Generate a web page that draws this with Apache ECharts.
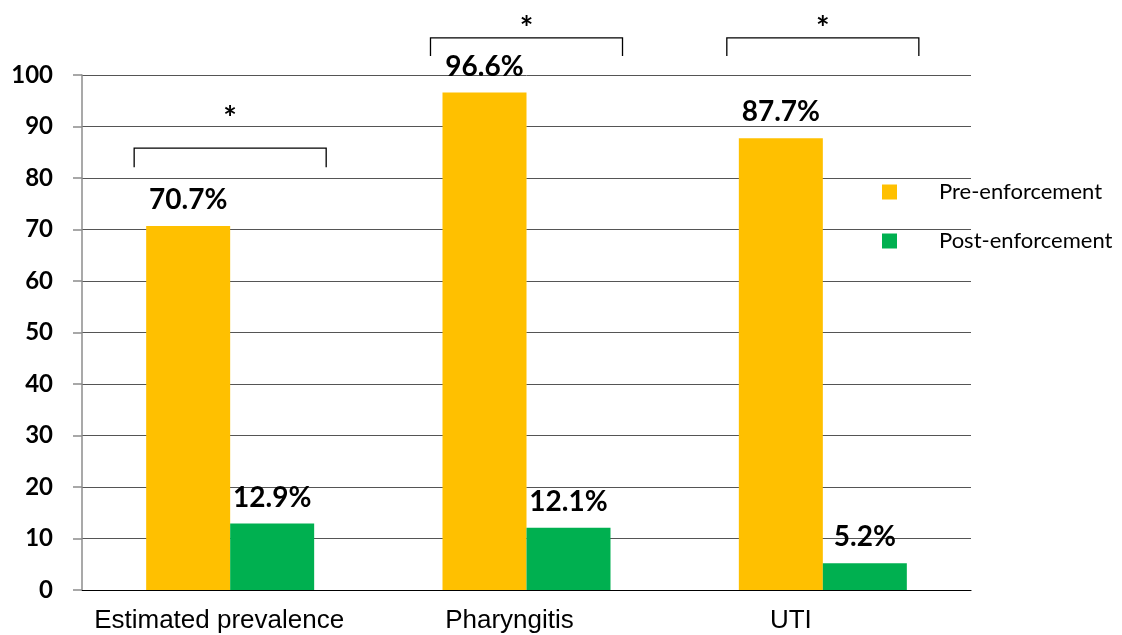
<!DOCTYPE html>
<html>
<head>
<meta charset="utf-8">
<script src="https://cdn.jsdelivr.net/npm/echarts@6/dist/echarts.min.js"></script>
<style>
html,body{margin:0;padding:0;background:#fff;}
#c{width:1122px;height:635px;}
</style>
</head>
<body>
<div id="c"></div>
<script>
const categories = ['Estimated prevalence', 'Pharyngitis', 'UTI'];
const preEnforcement = [70.7, 96.6, 87.7];
const postEnforcement = [12.9, 12.1, 5.2];
const yTicks = [0, 10, 20, 30, 40, 50, 60, 70, 80, 90, 100];
// significance brackets: [category index, bracket top, tick bottom, asterisk level]
const brackets = [
  [0, 85.8, 82.1, 93.0],
  [1, 107.2, 103.7, 110.4],
  [2, 107.2, 103.7, 110.4]
];

const labelShift = ['a', 'b', 'c'];

const chart = echarts.init(document.getElementById('c'));
chart.setOption({
  animation: false,
  backgroundColor: '#fff',
  grid: { left: 82, right: 151, top: 75, bottom: 45, containLabel: false },
  legend: {
    orient: 'vertical',
    left: 877,
    top: 176,
    itemWidth: 15,
    itemHeight: 15,
    itemGap: 27,
    icon: 'rect',
    data: ['Pre-enforcement', 'Post-enforcement'],
    textStyle: { fontFamily: 'Lato', fontSize: 22, color: '#000', padding: [0, 0, 0, 37] }
  },
  xAxis: {
    type: 'category',
    data: categories,
    axisLine: { lineStyle: { color: '#000', width: 1.2 } },
    axisTick: { show: false },
    axisLabel: {
      interval: 0,
      margin: 18,
      formatter: function (v, i) { return '{' + labelShift[i] + '|' + v + '}'; },
      rich: {
        a: { fontFamily: 'Liberation Sans', fontSize: 26, color: '#000', padding: [0, 22, 0, 0] },
        b: { fontFamily: 'Liberation Sans', fontSize: 26, color: '#000', padding: [0, 34, 0, 0] },
        c: { fontFamily: 'Liberation Sans', fontSize: 26, color: '#000', padding: [0, 64, 0, 0] }
      }
    }
  },
  yAxis: {
    type: 'value',
    min: 0,
    max: 100,
    interval: 10,
    axisLine: { show: true, lineStyle: { color: '#8c8c8c', width: 1.5 } },
    axisTick: { show: true, length: 9, lineStyle: { color: '#8c8c8c', width: 1.5 } },
    splitLine: { lineStyle: { color: '#555', width: 1 } },
    axisLabel: {
      fontFamily: 'Lato', fontWeight: 'bold', fontSize: 24, color: '#000', margin: 29,
      formatter: function (v) { return yTicks.indexOf(v) >= 0 ? String(v) : ''; }
    }
  },
  series: [
    {
      name: 'Pre-enforcement',
      type: 'bar',
      data: preEnforcement,
      barWidth: 84,
      barGap: '0%',
      itemStyle: { color: '#FFC000' },
      label: {
        show: true, position: 'top', distance: 12,
        formatter: '{c}%',
        fontFamily: 'Lato', fontWeight: 'bold', fontSize: 28, color: '#000'
      }
    },
    {
      name: 'Post-enforcement',
      type: 'bar',
      data: postEnforcement,
      barWidth: 84,
      itemStyle: { color: '#00B050' },
      label: {
        show: true, position: 'top', distance: 12,
        formatter: '{c}%',
        fontFamily: 'Lato', fontWeight: 'bold', fontSize: 28, color: '#000'
      }
    },
    {
      type: 'custom',
      clip: false,
      silent: true,
      data: brackets,
      encode: { x: 0, y: 1 },
      z: 10,
      renderItem: function (params, api) {
        const top = api.coord([api.value(0), api.value(1)]);
        const bot = api.coord([api.value(0), api.value(2)]);
        const star = api.coord([api.value(0), api.value(3)]);
        const bw = api.size([1, 0])[0];
        const half = bw * 0.324;
        const cx = top[0];
        const fs = 32;
        return {
          type: 'group',
          children: [
            {
              type: 'polyline',
              shape: { points: [[cx - half, bot[1]], [cx - half, top[1]], [cx + half, top[1]], [cx + half, bot[1]]] },
              style: { stroke: '#000', lineWidth: 1.3, fill: null }
            },
            {
              type: 'text',
              style: {
                text: '*', x: cx, y: star[1] + fs * 0.27,
                align: 'center', verticalAlign: 'middle',
                fontFamily: 'Lato', fontWeight: 'bold', fontSize: fs, fill: '#000'
              }
            }
          ]
        };
      }
    }
  ]
});
</script>
</body>
</html>
